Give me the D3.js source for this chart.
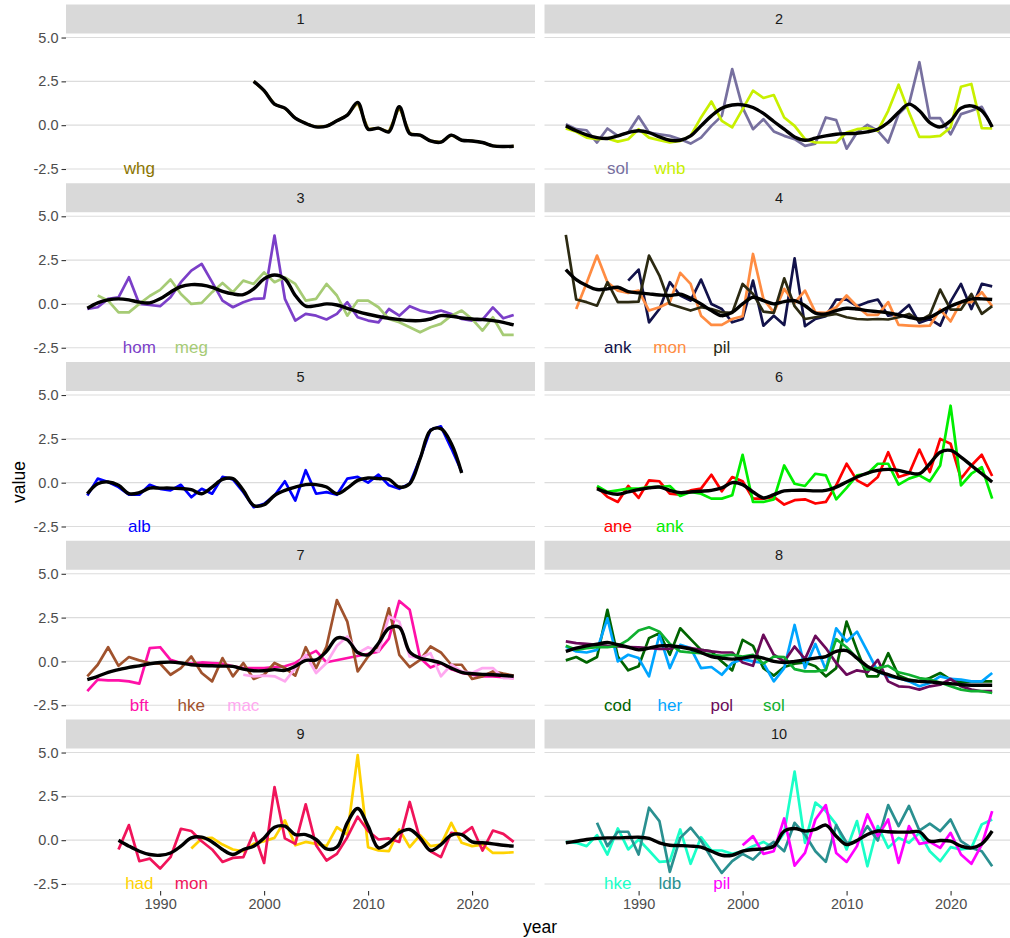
<!DOCTYPE html>
<html><head><meta charset="utf-8">
<script src="https://cdn.jsdelivr.net/npm/d3@7"></script>
<style>
body{margin:0;background:#fff}
svg{display:block}
text{font-family:"Liberation Sans",Arial,Helvetica,sans-serif}
</style>
</head><body>
<svg id="chart" width="1010" height="938"></svg>
<script>
// ---------------- data ----------------
const years = [1983,1984,1985,1986,1987,1988,1989,1990,1991,1992,1993,1994,1995,1996,1997,1998,1999,2000,2001,2002,2003,2004,2005,2006,2007,2008,2009,2010,2011,2012,2013,2014,2015,2016,2017,2018,2019,2020,2021,2022,2023,2024];
const panelNames = ["1","2","3","4","5","6","7","8","9","10"];
const xTicks = [1990, 2000, 2010, 2020];
const yTicks = [-2.5, 0, 2.5, 5];
const labelYears = [1988, 1993, 1998, 2003];
const labelValue = -2.5;

// panel 1
const whg_1 = [2.5,1.97,1.2,0.97,0.4,0.1,-0.1,-0.06,0.25,0.57,1.3,-0.23,-0.17,-0.38,1.05,-0.48,-0.57,-0.9,-0.97,-0.57,-0.86,-0.9,-0.99,-1.18,-1.22,-1.2];
const smooth_1 = [2.5,1.97,1.2,0.97,0.4,0.1,-0.1,-0.06,0.25,0.57,1.3,-0.23,-0.17,-0.38,1.05,-0.48,-0.57,-0.9,-0.97,-0.57,-0.86,-0.9,-0.99,-1.18,-1.22,-1.2];
// panel 2
const sol_2 = [0.06,-0.23,-0.29,-0.99,-0.19,-0.61,-0.42,0.5,-0.42,-0.52,-0.61,-0.8,-1.05,-0.71,-0.04,0.53,3.2,1.0,-0.23,0.34,-0.36,-0.61,-0.8,-1.18,-1.05,0.44,0.29,-1.34,-0.42,0.02,-0.32,-0.99,0.63,1.2,3.59,0.4,0.4,-0.52,0.63,0.82,1.05,-0.1];
const whb_2 = [-0.19,-0.38,-0.71,-0.8,-0.76,-0.94,-0.8,-0.23,-0.71,-0.86,-0.99,-0.9,-0.61,0.44,1.35,0.25,-0.13,0.92,1.97,1.55,1.72,0.44,-0.04,-0.8,-0.99,-0.99,-0.99,-0.42,-0.23,-0.17,-0.32,0.82,2.31,0.73,-0.67,-0.67,-0.61,-0.13,2.19,2.35,-0.17,-0.19];
const smooth_2 = [-0.04,-0.32,-0.55,-0.71,-0.76,-0.61,-0.42,-0.32,-0.42,-0.67,-0.86,-0.86,-0.61,-0.04,0.53,0.97,1.15,1.16,1.01,0.67,0.21,-0.23,-0.67,-0.86,-0.74,-0.61,-0.52,-0.48,-0.46,-0.38,-0.23,0.15,0.73,1.2,0.82,0.15,-0.1,0.25,0.97,1.1,0.82,-0.1];
// panel 3
const hom_3 = [-0.29,-0.19,0.29,0.38,1.52,0,-0.06,-0.13,0.38,1.24,1.9,2.28,1.24,0.19,-0.19,0.1,0.29,0.32,3.9,0.29,-0.95,-0.57,-0.67,-0.89,-0.57,0.1,-0.76,-0.95,-1.05,-0.29,-0.67,-0.13,-0.38,-0.51,-0.38,-0.57,-0.86,-0.95,-0.9,-0.2,-0.82,-0.63];
const meg_3 = [0.48,0.19,-0.48,-0.48,0.0,0.45,0.8,1.39,0.57,0.0,0.06,0.67,1.2,0.67,1.33,1.14,1.8,1.24,1.52,1.14,0.19,0.29,1.14,0.48,-0.67,0.19,0.19,-0.19,-0.86,-1.05,-1.33,-1.62,-1.33,-1.14,-0.67,-0.38,-0.86,-1.52,-0.76,-1.77,-1.77];
const smooth_3 = [-0.25,0.06,0.23,0.29,0.23,0.1,0.06,0.29,0.67,0.99,1.1,1.08,0.95,0.72,0.57,0.53,0.86,1.43,1.65,1.43,0.48,-0.13,-0.1,0,-0.06,-0.25,-0.44,-0.59,-0.72,-0.82,-0.89,-0.95,-0.95,-0.86,-0.67,-0.7,-0.8,-0.86,-0.89,-0.95,-1.05,-1.2];
// panel 4
const ank_4 = [1.33,1.96,-1.05,-0.29,1.24,0.48,0.19,1.39,0,-0.29,-1.05,-0.86,1.33,-1.24,-0.67,-1.2,2.6,-1.27,-0.86,-0.7,0.25,0.25,-0.13,0.1,0.25,-0.67,-0.57,-0.06,-1.08,-0.86,-1.24,0.13,1.14,-0.29,1.14,1.0];
const mon_4 = [-0.29,1.2,2.76,1.24,0.76,0.63,0.76,-0.38,-0.19,0.1,1.77,1.14,-0.67,-1.2,-1.2,-0.86,-0.7,2.85,0.29,-0.48,0.86,0.06,0.76,-0.48,-0.51,-0.19,0.48,-0.13,-0.63,-0.63,0.1,-1.2,-1.24,-1.27,-1.24,-0.32,-1.0,0.1,0.1,0.67,-0.13];
const pil_4 = [3.94,0.25,0.1,-0.1,1.24,0.1,0.1,0.13,2.76,1.62,0,-0.19,-0.38,-0.19,-0.29,-0.48,-0.51,1.14,0.57,-0.44,-0.51,1.46,-0.13,-0.86,-0.76,-0.67,-0.57,-0.76,-0.86,-0.89,-0.86,-0.89,-0.76,-0.57,-0.95,-0.63,0.82,-0.32,-0.32,0.57,-0.57,-0.13];
const smooth_4 = [1.96,1.39,1.05,0.82,0.86,0.95,0.7,0.63,0.57,0.51,0.48,0.55,0.32,0,-0.38,-0.67,-0.48,0,0.38,0.19,0,0.13,0.19,-0.1,-0.53,-0.57,-0.38,-0.25,-0.29,-0.38,-0.44,-0.51,-0.63,-0.76,-0.86,-0.76,-0.44,-0.13,0.1,0.29,0.29,0.25];
// panel 5
const alb_5 = [-0.73,0.23,0.04,-0.25,-0.69,-0.69,-0.12,-0.35,-0.44,-0.12,-0.83,-0.35,-0.63,0.33,0.19,-0.54,-1.4,-1.21,-0.73,0.08,-1.02,0.71,-0.63,-0.54,-0.69,0.23,0.33,0,0.46,-0.15,-0.35,-0.06,1.38,3.02,3.21,1.96,0.62];
const smooth_5 = [-0.63,-0.06,0.04,-0.15,-0.63,-0.57,-0.31,-0.31,-0.31,-0.34,-0.4,-0.63,-0.25,0.19,0.23,-0.44,-1.3,-1.26,-0.73,-0.44,-0.25,-0.11,-0.11,-0.25,-0.63,-0.31,0.13,0.27,0.23,0.19,-0.25,-0.06,1.37,2.98,3.08,2.23,0.55];
// panel 6
const ane_6 = [-0.25,-0.81,-1.1,-0.19,-0.87,0.13,0.08,-0.63,-0.68,-0.44,-0.34,0.45,-0.49,0.32,0.08,-0.91,-0.91,-0.81,-1.25,-1.0,-0.95,-1.19,-1.1,-0.15,1.08,0.13,-0.19,0.32,1.74,0.32,0.51,1.89,0.61,2.5,2.22,0.23,0.98,1.59,0.38];
const ank_6 = [-0.19,-0.53,-0.44,-0.34,-0.34,-0.25,-0.25,-0.19,-0.76,-0.53,-0.63,-0.91,-0.91,-0.72,1.59,-1.1,-1.1,-0.95,0.98,-0.06,-0.19,0.51,0.42,-0.95,-0.3,0.42,0.51,1.08,1.08,-0.11,0.23,0.42,0.08,0.98,4.39,-0.15,0.51,0.89,-0.91];
const smooth_6 = [-0.34,-0.57,-0.66,-0.53,-0.4,-0.3,-0.25,-0.44,-0.57,-0.53,-0.49,-0.44,-0.3,0,-0.11,-0.53,-0.87,-0.68,-0.47,-0.44,-0.44,-0.47,-0.44,-0.25,0.04,0.32,0.55,0.7,0.76,0.7,0.57,0.51,1.08,1.74,1.84,1.46,0.98,0.51,0.04];
// panel 7
const bft_7 = [-1.7,-1.04,-1.08,-1.08,-1.14,-1.27,0.76,0.81,0.09,-0.09,-0.13,-0.06,-0.09,-0.13,-0.28,-0.38,-0.38,-0.38,-0.32,-0.28,-0.09,0.3,0.6,-0.05,null,null,null,null,0.55,1.3,3.45,2.95,0.2,-0.35,-0.1,-0.45,-0.65,-0.75,-0.85,-0.85,-0.9,-0.95];
const hke_7 = [-0.85,-0.19,0.81,-0.25,0.25,0.06,-0.09,-0.13,-0.76,-0.38,0.28,-0.66,-1.14,0.19,-0.85,-0.09,-1.0,-0.76,-0.09,-0.38,-0.81,0.81,-0.38,0.85,3.5,2.27,-0.57,0.28,0.89,3.03,0.38,-0.32,0.09,0.85,0.51,-0.19,-0.19,-1.0,-0.85,-0.57,-0.7,-0.81];
const mac_7 = [-0.76,-0.85,-0.81,-0.85,-1.14,-0.38,0.38,-0.66,-0.09,0.89,1.42,0.47,0.81,0.57,2.56,2.27,0.28,0.19,0.47,-0.85,-0.19,-0.57,-0.66,-0.38,-0.38,-0.95,-0.95];
const smooth_7 = [-1.04,-0.85,-0.62,-0.47,-0.34,-0.25,-0.13,-0.06,-0.04,-0.09,-0.19,-0.23,-0.25,-0.27,-0.28,-0.44,-0.53,-0.53,-0.47,-0.51,-0.28,0.06,0.09,0.57,1.33,1.23,0.51,0.38,1.04,1.89,1.95,0.55,0.19,0.06,-0.09,-0.38,-0.62,-0.7,-0.74,-0.76,-0.8,-0.85];
// panel 8
const cod_8 = [0.06,0.25,-0.06,0.25,2.94,0.28,-0.51,-0.28,1.33,1.61,0.38,1.89,1.27,0.66,0.57,0,-0.51,1.23,0.89,-0.38,-0.81,-0.32,-0.13,-0.06,-0.28,-0.85,-0.38,2.27,0.66,-0.85,-0.85,0.47,-0.81,-1.04,-1.14,-0.95,-0.66,-1.04,-1.19,-1.14,-1.14,-1.14];
const her_8 = [0.85,0.57,0.51,0.66,2.46,0,0.38,0.19,-0.85,1.52,-0.38,0.95,0.76,-0.38,-0.32,-0.76,-0.09,0.13,0,-0.09,-1.14,-0.38,2.08,-0.38,1.0,-0.47,1.89,1.14,1.7,0.57,-0.57,-0.85,-0.95,-1.14,-1.42,-1.23,-0.85,-1.0,-1.04,-1.14,-1.14,-0.66];
const pol_8 = [1.14,1.04,1.0,0.95,0.89,0.85,0.81,0.8,0.76,0.72,0.72,0.85,0.76,0.66,0.57,0.51,0.51,-0.06,-0.25,1.52,0.38,0,0.85,0.13,1.46,0.76,-0.09,-0.76,-0.51,-0.62,0.09,-1.14,-1.42,-1.46,-1.61,-1.42,-1.33,-1.0,-1.42,-1.61,-1.7,-1.7];
const sol_8 = [0.89,0.66,0.76,0.81,0.81,0.89,1.23,1.76,1.95,1.7,1.0,0.57,0.51,0.47,0.38,0.32,0.38,0.28,0.38,-0.13,0.28,0.25,-0.44,-0.57,-0.57,-0.5,1.27,0.81,0.19,-0.47,-0.38,-0.25,-0.62,-0.76,-0.95,-1.04,-1.2,-1.42,-1.61,-1.7,-1.7,-1.8];
const smooth_8 = [0.57,0.76,0.89,0.98,1.08,0.95,0.82,0.66,0.76,0.89,0.89,0.82,0.7,0.51,0.28,0.19,0.13,0.19,0.28,0.19,0,-0.06,0,0.09,0.19,0.28,0.57,0.62,0.19,-0.28,-0.57,-0.76,-0.95,-1.08,-1.14,-1.17,-1.23,-1.27,-1.33,-1.36,-1.36,-1.36];
// panel 9
const had_9 = [-0.48,0.1,0.13,-0.25,-0.53,-0.63,-0.21,-0.06,0.13,1.13,-0.29,-0.1,-0.21,-0.34,0.74,0.32,4.85,-0.4,-0.59,-0.63,0.61,-0.4,0.29,-0.34,-0.25,0.99,-0.15,-0.34,-0.25,-0.73,-0.73,-0.69];
const mon_9 = [-0.53,0.86,-1.2,-1.05,-1.62,-0.97,0.65,0.52,-0.06,-0.53,-1.24,-1.01,-0.97,0.42,-1.3,3.03,0.1,-0.21,2.04,-0.29,-1.16,-0.78,0.17,1.34,0.52,0.04,0.1,-0.1,2.18,0.04,-0.63,-0.97,0.42,0.32,0.74,-0.59,0.55,0.36,-0.1];
const smooth_9 = [0,-0.34,-0.63,-0.82,-0.86,-0.73,-0.34,0.13,0.17,-0.1,-0.53,-0.82,-0.53,-0.34,0.13,0.74,0.8,0.32,0.32,0.04,-0.5,-0.4,0.99,1.81,0.8,-0.44,-0.15,0.42,0.61,0.13,-0.59,-0.25,0.29,0.32,-0.1,-0.15,-0.21,-0.29,-0.34];
// panel 10
const hke_10 = [-0.1,-0.15,-0.34,0.29,-0.82,0.67,-0.53,0.04,-0.59,-1.24,-1.2,0.61,-1.35,0.17,-0.59,-0.59,-0.78,-0.63,-0.34,-0.1,-0.44,0.42,3.91,-0.15,2.14,1.66,0.9,-0.53,1.09,-1.49,0.8,-0.44,0.13,-0.15,0.42,-0.63,-1.2,-0.4,-0.53,-0.44,0.9,1.18];
const ldb_10 = [0.99,-0.34,0.48,0.48,-0.82,1.85,1.09,-1.81,0.13,0.71,-0.02,-1.0,-1.87,-1.2,-0.78,-1.11,-0.53,-0.1,-0.63,0.99,0.32,-0.63,-1.24,0.86,-0.15,-0.1,0.8,-0.02,2.0,0.8,1.95,0.55,0.94,0.52,1.18,-0.06,-0.44,-0.63,-1.49];
const pil_10 = [-0.29,0.23,-0.78,-0.63,1.24,-1.45,-0.73,1.18,2.0,-0.73,-1.24,-0.34,1.47,0.23,1.18,-1.3,0.8,-0.21,-0.1,-0.44,0.42,-0.82,-1.35,-0.25,1.66];
const smooth_10 = [-0.15,-0.06,0.04,0.1,0.13,0.13,0.15,0.17,0.1,-0.15,-0.29,-0.31,-0.34,-0.4,-0.63,-0.86,-0.86,-0.63,-0.53,-0.5,-0.34,0.52,0.67,0.52,0.61,0.86,0.23,-0.25,-0.02,0.32,0.52,0.48,0.46,0.46,0.48,-0.06,-0.02,-0.06,-0.34,-0.44,-0.21,0.52];

// series: panel index, species, first year, values
const speciesSeries = [
  {panel:0, sp:"whg", start:1999, values:whg_1},
  {panel:1, sp:"sol", start:1983, values:sol_2},
  {panel:1, sp:"whb", start:1983, values:whb_2},
  {panel:2, sp:"hom", start:1983, values:hom_3},
  {panel:2, sp:"meg", start:1984, values:meg_3},
  {panel:3, sp:"ank", start:1989, values:ank_4},
  {panel:3, sp:"mon", start:1984, values:mon_4},
  {panel:3, sp:"pil", start:1983, values:pil_4},
  {panel:4, sp:"alb", start:1983, values:alb_5},
  {panel:5, sp:"ane", start:1986, values:ane_6},
  {panel:5, sp:"ank", start:1986, values:ank_6},
  {panel:6, sp:"bft", start:1983, values:bft_7},
  {panel:6, sp:"hke", start:1983, values:hke_7},
  {panel:6, sp:"mac", start:1998, values:mac_7},
  {panel:7, sp:"cod", start:1983, values:cod_8},
  {panel:7, sp:"her", start:1983, values:her_8},
  {panel:7, sp:"pol", start:1983, values:pol_8},
  {panel:7, sp:"sol", start:1983, values:sol_8},
  {panel:8, sp:"had", start:1993, values:had_9},
  {panel:8, sp:"mon", start:1986, values:mon_9},
  {panel:9, sp:"hke", start:1983, values:hke_10},
  {panel:9, sp:"ldb", start:1986, values:ldb_10},
  {panel:9, sp:"pil", start:2000, values:pil_10}
];
const smoothSeries = [
  {panel:0, start:1999, values:smooth_1},
  {panel:1, start:1983, values:smooth_2},
  {panel:2, start:1983, values:smooth_3},
  {panel:3, start:1983, values:smooth_4},
  {panel:4, start:1983, values:smooth_5},
  {panel:5, start:1986, values:smooth_6},
  {panel:6, start:1983, values:smooth_7},
  {panel:7, start:1983, values:smooth_8},
  {panel:8, start:1986, values:smooth_9},
  {panel:9, start:1983, values:smooth_10}
];

// ---------------- styles ----------------
const colors = {
  "0-whg":"#8B7500",
  "1-sol":"#77709F","1-whb":"#C8F000",
  "2-hom":"#7B3FC8","2-meg":"#A6CB75",
  "3-ank":"#12124A","3-mon":"#FF8C42","3-pil":"#2C2A12",
  "4-alb":"#0000FF",
  "5-ane":"#FF0000","5-ank":"#00EE00",
  "6-bft":"#FF10A8","6-hke":"#A0522D","6-mac":"#FFA8F0",
  "7-cod":"#006400","7-her":"#00A5FF","7-pol":"#6B0A5A","7-sol":"#10B030",
  "8-had":"#FFD200","8-mon":"#F0145A",
  "9-hke":"#1AFFC8","9-ldb":"#2A9090","9-pil":"#FF00FF"
};

const layout = {
  colX:[66, 544.5], panelW:469, top:4.5, rowPitch:178.75, stripH:29, panelH:142.5
};

// ---------------- drawing ----------------
const svg = d3.select("#chart");
svg.append("rect").attr("width",1010).attr("height",938).attr("fill","#fff");

const x = d3.scaleLinear().domain([1980.95, 2026.05]).range([0, layout.panelW]);
const y = d3.scaleLinear().domain([-2.9, 5.23]).range([layout.panelH, 0]);

const toPoints = s => s.values.map((v,i)=>({year: years[years.indexOf(s.start)+i], v}))
                              .filter(d => d.v !== null && d.v !== undefined);

const lineGen = d3.line().x(d=>x(d.year)).y(d=>y(d.v));
const smoothGen = d3.line().x(d=>x(d.year)).y(d=>y(d.v)).curve(d3.curveCatmullRom.alpha(0.5));

panelNames.forEach((name, i) => {
  const col = i % 2, row = Math.floor(i/2);
  const gx = layout.colX[col];
  const stripY = layout.top + row*layout.rowPitch;
  const py = stripY + layout.stripH;

  // strip
  svg.append("rect").attr("x",gx).attr("y",stripY).attr("width",layout.panelW).attr("height",layout.stripH)
     .attr("fill","#d9d9d9");
  svg.append("text").attr("x",gx+layout.panelW/2).attr("y",stripY+layout.stripH/2)
     .attr("text-anchor","middle").attr("dominant-baseline","central")
     .attr("font-size","14.5px").attr("fill","#1a1a1a").text(name);

  const g = svg.append("g").attr("transform",`translate(${gx},${py})`);

  // gridlines
  g.selectAll("line.grid").data(yTicks).enter().append("line")
    .attr("x1",0).attr("x2",layout.panelW)
    .attr("y1",d=>y(d)).attr("y2",d=>y(d))
    .attr("stroke","#dcdcdc").attr("stroke-width",1.1);

  // y axis (left column)
  if (col === 0) {
    const ax = g.append("g").call(d3.axisLeft(y).tickValues(yTicks).tickFormat(d=>d.toFixed(1)).tickSize(4.5).tickPadding(3));
    ax.select(".domain").remove();
    ax.selectAll(".tick line").attr("stroke","#333").attr("stroke-width",1.1);
    ax.selectAll(".tick text").attr("fill","#4d4d4d").attr("font-size","14.5px")
      .attr("font-family","Liberation Sans, Arial, sans-serif");
  }
  // x axis (bottom row)
  if (row === 4) {
    const ax = g.append("g").attr("transform",`translate(0,${layout.panelH})`)
      .call(d3.axisBottom(x).tickValues(xTicks).tickFormat(d3.format("d")).tickSize(4.5).tickPadding(3));
    ax.select(".domain").remove();
    ax.selectAll(".tick line").attr("stroke","#333").attr("stroke-width",1.1);
    ax.selectAll(".tick text").attr("fill","#4d4d4d").attr("font-size","14.5px")
      .attr("font-family","Liberation Sans, Arial, sans-serif");
  }

  // species lines
  const ser = speciesSeries.filter(s => s.panel === i);
  ser.forEach(s => {
    g.append("path").datum(toPoints(s)).attr("d",lineGen)
      .attr("fill","none").attr("stroke",colors[`${i}-${s.sp}`])
      .attr("stroke-width",2.7).attr("stroke-linejoin","round");
  });
  // smooth
  smoothSeries.filter(s => s.panel === i).forEach(s => {
    g.append("path").datum(toPoints(s)).attr("d",smoothGen)
      .attr("fill","none").attr("stroke","#000").attr("stroke-width",3.4)
      .attr("stroke-linejoin","round");
  });
  // labels
  ser.forEach((s, j) => {
    g.append("text").attr("x",x(labelYears[j])).attr("y",y(labelValue))
      .attr("text-anchor","middle").attr("dominant-baseline","central")
      .attr("font-size","17px").attr("fill",colors[`${i}-${s.sp}`]).text(s.sp);
  });
});

// axis titles
svg.append("text").attr("x",540).attr("y",927).attr("text-anchor","middle")
   .attr("dominant-baseline","central").attr("font-size","17.5px").attr("fill","#000").text("year");
svg.append("text").attr("transform","translate(19,482) rotate(-90)").attr("text-anchor","middle")
   .attr("dominant-baseline","central").attr("font-size","17.5px").attr("fill","#000").text("value");
</script>
</body></html>
